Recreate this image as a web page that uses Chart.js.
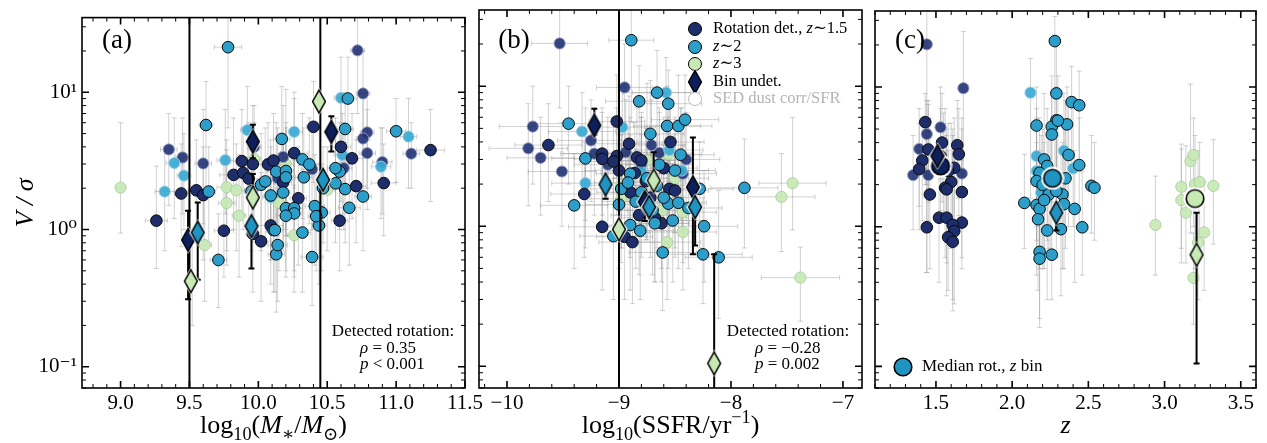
<!DOCTYPE html>
<html>
<head>
<meta charset="utf-8">
<script src="https://cdn.jsdelivr.net/npm/chart.js@4/dist/chart.umd.min.js"></script>
<style>
html, body { margin: 0; padding: 0; background: #fff; }
#wrap { position: relative; width: 1267px; height: 443px; }
#wrap canvas { position: absolute; left: 0; top: 0; }
</style>
</head>
<body>
<div id="wrap">
<canvas id="ca" width="1267" height="443"></canvas>
<canvas id="cb" width="1267" height="443"></canvas>
<canvas id="cc" width="1267" height="443"></canvas>
</div>
<script>
// point tuples: [x, V/sigma, x error, lower V/sigma, upper V/sigma]

// ---- panel (a): stellar mass ----
const aNavyDet = [
  [9.26,1.16,0.08,0.52,2.9],[9.44,1.83,0.05,0.75,4.2],[9.55,1.93,0.06,0.8,4.5],[9.60,1.78,0.05,0.6,4.0],
  [9.75,0.98,0.07,0.45,3.2],[9.82,2.5,0.10,1.0,6.5],[9.88,3.15,0.08,1.3,7.5],[9.89,2.59,0.06,1.0,5.5],
  [9.96,3.0,0.07,1.2,8.0],[10.07,2.98,0.08,1.0,6.0],[10.11,3.18,0.06,1.1,7.0],[10.26,3.6,0.10,1.5,9.0],
  [10.29,1.69,0.06,0.55,4.0],[10.09,1.07,0.09,0.4,3.0],[9.96,0.93,0.05,0.35,3.5],[10.02,0.82,0.07,0.3,2.6],
  [10.40,5.6,0.05,2.2,12],[10.59,1.16,0.06,0.5,2.6],[10.60,4.0,0.07,1.6,8.5],[10.68,3.3,0.08,1.2,7.0],
  [10.71,2.07,0.07,0.8,4.5],[10.91,2.18,0.09,0.9,4.2],[11.25,3.79,0.10,1.6,7.5],[10.18,2.2,0.06,0.8,5.0],
  [9.93,2.35,0.08,0.9,6.0]
];
const aNavySed = [
  [9.35,3.83,0.06,1.5,7.0],[9.45,3.35,0.05,1.3,6.5],[9.60,3.03,0.06,1.1,7.5],[10.18,3.38,0.07,1.3,8.0],
  [10.39,2.75,0.08,1.0,6.0],[10.14,2.37,0.06,0.9,5.5],[10.72,20.2,0.05,7,38],[10.76,9.8,0.05,3.5,20],
  [10.79,5.1,0.05,2.0,10],[10.76,4.6,0.05,1.8,9],[10.79,3.6,0.06,1.4,7.5],[10.90,3.1,0.07,1.3,5.5],
  [10.62,2.8,0.06,1.0,6],[11.11,3.57,0.06,2.0,6],[9.97,4.0,0.05,1.5,8]
];
const aBlueDet = [
  [9.78,21.3,0.10,5.5,35],[9.64,1.89,0.05,0.8,4.0],[9.62,5.77,0.05,2.0,12],[9.71,0.60,0.06,0.27,1.3],
  [10.02,2.12,0.06,0.7,5],[10.05,2.24,0.06,0.8,5.5],[10.09,1.77,0.05,0.6,4.5],[10.13,2.64,0.07,0.9,6],
  [10.11,0.99,0.05,0.35,2.5],[10.13,0.66,0.06,0.25,1.7],[10.65,9.0,0.06,3,18],[10.17,4.57,0.06,1.6,11],
  [10.63,5.4,0.06,2,10],[11.0,5.2,0.07,2.2,9],[10.76,1.74,0.06,0.7,3.5],[10.63,1.97,0.07,0.8,4.3],
  [10.56,2.17,0.07,0.8,5],[10.59,2.64,0.05,1.0,6],[10.56,2.8,0.06,1.1,6.5],[10.66,1.44,0.08,0.55,3.3],
  [10.46,1.33,0.06,0.5,3.0],[10.44,1.07,0.05,0.4,2.6],[10.41,1.48,0.07,0.55,3.5],[10.39,0.63,0.08,0.28,1.6],
  [10.32,0.95,0.06,0.35,2.4],[10.14,0.77,0.07,0.3,2.0],[10.18,1.86,0.05,0.7,4.5],[10.20,1.43,0.06,0.5,3.4],
  [10.26,1.43,0.06,0.5,3.6],[10.26,1.31,0.05,0.45,3.2],[10.20,1.26,0.07,0.45,3.0],[10.32,3.24,0.06,1.2,7],
  [10.37,2.98,0.07,1.1,6.5],[10.33,2.4,0.06,0.9,5.5],[10.20,2.67,0.06,1.0,6],[10.20,2.4,0.05,0.9,5.5],
  [10.12,0.99,0.06,0.35,2.6],[9.95,1.9,0.05,0.7,4.5],[10.47,2.0,0.05,0.8,4.0],[10.42,1.25,0.06,0.5,3.0]
];
const aBlueSed = [
  [9.39,3.05,0.06,1.2,6.5],[9.46,2.47,0.05,1.0,5],[9.32,1.89,0.07,0.7,4],[9.76,3.2,0.06,1.3,7.5],
  [9.92,5.3,0.05,2.0,11],[10.26,5.15,0.06,2.0,10],[10.60,9.1,0.05,3.0,18],[10.61,3.5,0.06,1.3,7],
  [11.09,4.75,0.06,2.0,9],[10.89,2.87,0.07,1.2,5.5],[10.09,1.72,0.06,0.6,4.0]
];
const aGreenSed = [
  [9.0,2.02,0.03,0.94,6.0],[9.61,0.77,0.05,0.3,1.8],[9.77,2.03,0.07,0.7,4.5],[9.84,1.93,0.06,0.7,4.2],
  [9.77,1.56,0.06,0.55,3.8],[9.86,1.26,0.05,0.45,3.5],[9.97,3.26,0.05,1.0,6],[10.15,1.56,0.06,0.5,3.6],
  [10.20,3.0,0.06,0.9,10.5],[10.26,0.91,0.05,0.35,2.1],[10.50,1.95,0.05,0.7,4.0],[9.52,0.43,0.05,0.2,0.9]
];
// bins: [x, V/sigma, lower, upper]
const aBinNavy = [[9.49,0.84,0.31,1.37],[9.96,4.37,3.3,5.8],[10.53,5.15,3.7,6.7]];
const aBinBlue = [[9.56,0.95,0.43,1.57],[9.95,1.06,0.52,1.06],[10.47,2.3,2.3,2.3]];
const aBinGreen = [[9.51,0.42,0.42,0.42],[9.96,1.71,1.71,2.54],[10.44,8.56,8.56,8.56]];
const aLines = [9.5, 10.45];
const aXTicks = [9.0, 9.5, 10.0, 10.5, 11.0, 11.5];
const aXLabels = ['9.0', '9.5', '10.0', '10.5', '11.0', '11.5'];

// ---- panel (b): specific SFR ----
const bNavyDet = [
  [-9.02,5.6,0.25,2.2,12],[-9.63,3.8,0.3,1.5,7.5],[-9.31,1.70,0.3,0.6,4],[-9.15,0.99,0.3,0.35,2.6],
  [-9.15,3.3,0.35,1.2,7],[-9.15,3.03,0.25,1.1,6.5],[-9.02,3.17,0.3,1.2,7],[-8.91,3.88,0.3,1.5,8.5],
  [-9.0,2.5,0.3,0.9,6],[-8.95,0.84,0.25,0.3,2.5],[-8.88,0.77,0.3,0.28,2.0],[-8.84,3.1,0.25,1.1,7],
  [-8.80,2.95,0.3,1.0,6.5],[-8.54,4.0,0.3,1.5,8],[-8.76,2.1,0.25,0.8,5],[-8.55,1.85,0.3,0.7,4.2],
  [-8.50,1.8,0.3,0.6,4.5],[-8.86,2.4,0.3,0.9,5.5],[-8.62,1.05,0.25,0.4,2.8],[-8.72,1.6,0.3,0.6,3.8],
  [-9.05,2.9,0.3,1.0,6],[-8.68,1.15,0.3,0.4,3.0],[-8.82,1.2,0.25,0.45,3.2],[-8.9,1.75,0.3,0.6,4.5],
  [-8.6,2.6,0.3,1.0,6]
];
const bNavySed = [
  [-9.53,20.2,0.25,7,38],[-8.95,9.8,0.25,3.5,20],[-9.77,5.15,0.3,2.0,10],[-9.81,3.6,0.35,1.4,7.5],
  [-9.70,3.08,0.3,1.2,6],[-9.51,2.46,0.3,1.0,5.5],[-9.22,3.3,0.3,1.2,7],[-8.94,3.38,0.25,1.3,8],
  [-8.71,3.8,0.3,1.4,8],[-8.64,3.34,0.3,1.2,7],[-8.43,2.37,0.3,0.9,5.5],[-9.25,4.1,0.3,1.5,8],
  [-8.8,2.8,0.3,1.0,6],[-9.1,2.75,0.3,1.0,6],[-8.4,3.0,0.3,1.1,6.5]
];
const bBlueDet = [
  [-8.89,21.3,0.2,5.5,35],[-8.66,9.0,0.3,3,18],[-8.82,7.8,0.3,2.5,14],[-9.45,5.4,0.3,2,10],
  [-9.4,1.41,0.3,0.5,3.3],[-9.30,3.05,0.3,1.1,7],[-9.0,1.43,0.3,0.5,3.5],[-8.9,2.37,0.3,0.8,6],
  [-8.9,1.02,0.25,0.35,2.5],[-8.81,0.93,0.3,0.3,2.4],[-8.72,4.57,0.3,1.6,11],[-8.64,2.75,0.3,1.0,6.5],
  [-8.57,5.2,0.3,1.8,10],[-8.61,0.65,0.3,0.25,1.7],[-8.56,7.5,0.3,2.6,13],[-8.47,5.2,0.3,2,12],
  [-8.41,5.77,0.3,2,12],[-8.45,3.24,0.3,1.1,7],[-8.56,1.45,0.3,0.5,3.5],[-8.47,1.47,0.25,0.5,3.3],
  [-8.52,1.10,0.3,0.4,2.8],[-8.28,1.85,0.3,0.7,4],[-8.24,1.0,0.3,0.4,2.5],[-8.25,0.63,0.35,0.28,1.6],
  [-8.11,0.60,0.3,0.22,1.8],[-7.88,1.88,0.3,0.7,4.2],[-8.8,1.75,0.3,0.6,4.5],[-8.7,1.3,0.3,0.45,3.2],
  [-8.75,2.2,0.3,0.8,5],[-8.98,1.85,0.3,0.7,4.5],[-8.6,1.6,0.3,0.6,3.8],[-8.85,1.5,0.3,0.5,3.5],
  [-8.68,1.05,0.3,0.4,2.6],[-8.92,2.05,0.3,0.8,5],[-8.5,2.5,0.3,0.9,6],[-8.38,1.35,0.3,0.5,3.0],
  [-8.66,1.95,0.3,0.7,4.5],[-9.05,0.85,0.3,0.3,2.2]
];
const bBlueSed = [
  [-8.58,9.0,0.3,3,16],[-9.33,4.75,0.3,1.7,9],[-8.97,5.1,0.3,1.8,10],[-9.30,2.03,0.3,0.7,5],
  [-8.44,2.5,0.3,0.9,7],[-8.55,3.5,0.3,1.2,8],[-8.8,2.45,0.3,0.9,6]
];
const bGreenSed = [
  [-8.98,1.96,0.3,0.7,4.5],[-8.98,1.57,0.3,0.55,3.8],[-8.57,0.77,0.3,0.3,3.5],[-8.56,3.26,0.3,1.0,6],
  [-8.43,1.26,0.3,0.55,3.8],[-8.43,0.91,0.3,0.35,2.1],[-7.55,1.62,0.3,0.66,3.3],[-7.45,2.03,0.3,0.94,6.0],
  [-7.38,0.43,0.35,0.21,0.71],[-8.62,1.3,0.3,0.5,3.6],[-8.5,2.2,0.3,0.7,4.0],[-8.75,2.95,0.3,0.9,10.5]
];
const bBinNavy = [[-9.22,5.25,4.5,6.9],[-8.77,1.49,1.09,1.49],[-8.34,1.9,0.63,4.3]];
const bBinBlue = [[-9.12,1.99,1.57,1.99],[-8.73,1.37,1.37,1.37],[-8.32,1.37,0.73,1.37]];
const bBinGreen = [[-9.0,0.95,0.95,0.95],[-8.69,2.12,2.12,3.38],[-8.15,0.105,0.05,0.63]];
const bLines = [-9.0];
const bXTicks = [-10, -9, -8, -7];
const bXLabels = ['\u221210', '\u22129', '\u22128', '\u22127'];

// ---- panel (c): redshift ----
const cNavyDet = [
  [1.43,5.6,0,2.0,9.0],[1.45,3.57,0,1.5,7.5],[1.41,2.98,0,1.1,6.0],[1.39,2.58,0,0.95,5.5],
  [1.54,4.0,0,1.5,9.0],[1.64,3.83,0,1.6,8.0],[1.65,3.3,0,1.2,7.0],[1.60,2.09,0,0.7,5.5],
  [1.56,1.9,0,0.6,7.0],[1.57,1.85,0,0.55,4.5],[1.67,1.77,0,0.6,5.0],[1.46,1.70,0,0.5,6.0],
  [1.52,1.16,0,0.4,4.0],[1.57,1.16,0,0.32,5.0],[1.44,0.99,0,0.47,3.5],[1.67,1.07,0,0.5,3.0],
  [1.61,1.03,0,0.3,4.5],[1.62,0.93,0,0.28,3.0],[1.58,0.84,0,0.35,3.5],[1.61,0.78,0,0.25,5.0],
  [1.62,2.64,0,0.9,6.0],[1.53,3.2,0,1.3,7.0],[1.55,2.9,0,1.2,6.5],[1.58,2.5,0,0.9,5.5]
];
const cNavySed = [
  [1.44,20.2,0,0.47,40],[1.68,9.8,0,2.3,25],[1.44,4.6,0,2.0,8.0],[1.53,5.15,0,2.2,10],
  [1.39,3.6,0,1.4,7.0],[1.35,2.34,0,0.95,4.5],[1.45,2.34,0,1.1,8.0],[1.67,2.4,0,1.0,6.0]
];
const cBlueDet = [
  [2.28,21.3,0,2.5,32],[2.29,9.0,0,1.5,20],[2.39,7.8,0,2.5,14],[2.44,7.4,0,2.6,13],
  [2.16,5.3,0,1.3,10],[2.29,5.77,0,1.0,10],[2.26,5.2,0,1.2,12],[2.26,4.57,0,1.5,9],
  [2.36,5.4,0,1.6,10],[2.37,3.26,0,1.0,8],[2.21,3.03,0,0.7,9],[2.23,2.72,0,0.8,7],
  [2.18,2.43,0,0.6,6],[2.16,2.12,0,0.7,5],[2.20,1.99,0,0.5,5],[2.24,1.7,0,0.6,4.5],
  [2.33,1.7,0,0.5,4],[2.08,1.48,0,0.7,3.3],[2.16,1.43,0,0.45,4],[2.18,1.34,0,0.5,3.5],
  [2.17,1.13,0,0.35,3],[2.23,0.94,0,0.3,2.6],[2.32,0.96,0,0.32,3.5],[2.18,0.66,0,0.19,2.0],
  [2.18,0.59,0,0.22,1.8],[2.26,0.63,0,0.3,2.2],[2.30,5.74,0,2.0,12],[2.44,2.76,0,1.0,6],
  [2.35,2.22,0,0.7,8],[2.52,1.96,0,0.9,4.5],[2.54,1.9,0,0.8,4],[2.34,1.45,0,0.5,5],
  [2.41,1.34,0,0.4,3.5],[2.46,0.99,0,0.45,2.5],[2.25,2.05,0,0.7,5],[2.29,1.8,0,0.6,4.5],
  [2.21,1.55,0,0.5,4]
];
const cBlueSed = [
  [2.12,9.1,0,1.6,16],[2.16,3.2,0,1.0,7],[2.34,3.5,0,1.0,9],[2.40,2.61,0,1.0,7],
  [2.16,2.5,0,0.8,6],[2.19,1.75,0,0.6,4.5]
];
const cGreenSed = [
  [2.94,1.03,0,0.45,2.3],[3.11,1.93,0,0.7,3.9],[3.11,1.55,0,0.55,3.6],[3.14,1.26,0,0.55,3.8],
  [3.17,2.95,0,0.9,10.5],[3.19,3.26,0,1.0,6],[3.20,2.01,0,0.5,4.5],[3.23,2.09,0,0.7,4.0],
  [3.32,1.96,0,0.75,4.2],[3.26,0.91,0,0.35,2.1],[3.22,0.77,0,0.3,3.5],[3.19,0.43,0,0.2,0.9]
];
const cBinNavy = [[1.51,3.2,3.2,3.2]];
const cBinBlue = [[2.29,1.26,0.94,1.26]];
const cBinGreen = [[3.21,0.63,0.105,1.26]];
const cMedNavy = [[1.53,2.72]];
const cMedBlue = [[2.265,2.22]];
const cMedGreen = [[3.20,1.59]];
const cXTicks = [1.5, 2.0, 2.5, 3.0, 3.5];
const cXLabels = ['1.5', '2.0', '2.5', '3.0', '3.5'];

const yTicks = [0.1, 1, 10];
const yLabels = ['10\u207B\u00B9', '10\u2070', '10\u00B9'];

const SERIF = "'Liberation Serif', 'DejaVu Serif', serif";
const NAVY = '#1e2d6c', BLUE = '#2b9ec9', GREEN = '#c7e9b4';

function diamondImg(fill) {
  const c = document.createElement('canvas');
  c.width = 18; c.height = 28;
  const g = c.getContext('2d');
  const poly = d => { g.beginPath(); g.moveTo(9, d); g.lineTo(18 - d, 14); g.lineTo(9, 28 - d); g.lineTo(d, 14); g.closePath(); };
  poly(0.3); g.fillStyle = '#fff'; g.fill();
  poly(2.6); g.fillStyle = fill; g.fill(); g.lineWidth = 1.5; g.strokeStyle = '#000'; g.stroke();
  return c;
}
function medianImg(fill) {
  const c = document.createElement('canvas');
  c.width = 24; c.height = 24;
  const g = c.getContext('2d');
  g.beginPath(); g.arc(12, 12, 11.5, 0, 2 * Math.PI); g.fillStyle = '#fff'; g.fill();
  g.beginPath(); g.arc(12, 12, 8.8, 0, 2 * Math.PI); g.fillStyle = fill; g.fill();
  g.lineWidth = 1.6; g.strokeStyle = '#000'; g.stroke();
  return c;
}
const dNavy = diamondImg('#0c1f5a'), dBlue = diamondImg('#1f93c1'), dGreen = diamondImg(GREEN);
const mNavy = medianImg('#0c1f5a'), mBlue = medianImg('#1f93c1'), mGreen = medianImg(GREEN);

const xy = arr => arr.map(p => ({x: p[0], y: p[1]}));

function detSet(arr, col, order) {
  return {data: xy(arr), errs: arr, backgroundColor: col, borderColor: '#0a0a0a',
    borderWidth: 1, pointRadius: 5.8, order: order};
}
function sedSet(arr, col, edge, order) {
  return {data: xy(arr), errs: arr, backgroundColor: col, borderColor: edge,
    borderWidth: 1, pointRadius: 5.6, order: order};
}
function lineSet(v) {
  return {type: 'line', data: [{x: v, y: 0.01}, {x: v, y: 100}], borderColor: '#000',
    borderWidth: 2, pointRadius: 0, order: 2};
}
function binSet(navy, blue, green) {
  const all = navy.concat(blue, green);
  const styles = navy.map(() => dNavy).concat(blue.map(() => dBlue), green.map(() => dGreen));
  return {data: xy(all), bins: all, pointStyle: styles, pointRadius: 9, order: 0};
}
function groupSets(nd, ns, bd, bs, gs) {
  return [
    detSet(bd, BLUE, 3),
    detSet(nd, NAVY, 4),
    sedSet(bs, 'rgba(58,170,212,0.92)', 'rgba(160,205,225,0.9)', 6),
    sedSet(ns, 'rgba(33,50,115,0.9)', 'rgba(150,158,195,0.9)', 7),
    sedSet(gs, 'rgba(199,233,180,0.92)', 'rgba(172,205,160,0.9)', 8)
  ];
}

function errBar(ctx, xs, ys, x, v, xe, lo, hi, cap) {
  const px = xs.getPixelForValue(x), py = ys.getPixelForValue(v);
  ctx.beginPath();
  if (xe > 0) {
    const l = xs.getPixelForValue(x - xe), r = xs.getPixelForValue(x + xe);
    ctx.moveTo(l, py); ctx.lineTo(r, py);
    ctx.moveTo(l, py - cap); ctx.lineTo(l, py + cap);
    ctx.moveTo(r, py - cap); ctx.lineTo(r, py + cap);
  }
  if (hi > v) {
    const t = ys.getPixelForValue(hi);
    ctx.moveTo(px, py); ctx.lineTo(px, t);
    ctx.moveTo(px - cap, t); ctx.lineTo(px + cap, t);
  }
  if (lo < v) {
    const b = ys.getPixelForValue(lo);
    ctx.moveTo(px, py); ctx.lineTo(px, b);
    ctx.moveTo(px - cap, b); ctx.lineTo(px + cap, b);
  }
  ctx.stroke();
}

// mixed-style text: parts are [text, kind], kind '' | 'i' | 'sub' | 'sup'
function rich(ctx, parts, x, y, size, align, color) {
  const fnt = k => (k === 'i' ? 'italic ' : '') + ((k === 'sub' || k === 'sup') ? size * 0.7 : size) + 'px ' + SERIF;
  let w = 0;
  parts.forEach(p => { ctx.font = fnt(p[1]); w += ctx.measureText(p[0]).width; });
  let cx = align === 'center' ? x - w / 2 : x;
  ctx.fillStyle = color || '#000';
  ctx.textAlign = 'left';
  parts.forEach(p => {
    ctx.font = fnt(p[1]);
    const dy = p[1] === 'sub' ? size * 0.28 : (p[1] === 'sup' ? -size * 0.38 : 0);
    ctx.fillText(p[0], cx, y + dy);
    cx += ctx.measureText(p[0]).width;
  });
}

const deco = {
  ca: {xMinor: 0.1, xTicks: aXTicks, tag: '(a)',
    xTitle: [['log', ''], ['10', 'sub'], ['(', ''], ['M', 'i'], ['\u2217', 'sub'], ['/', ''], ['M', 'i'], ['\u2299', 'sub'], [')', '']],
    stats: [[[['Detected rotation:', '']], 72, 56, 'center'], [[['\u03C1', 'i'], [' = 0.35', '']], 105, 39, 'left'],
            [[['p', 'i'], [' < 0.001', '']], 105, 23, 'left']]},
  cb: {xMinor: 0.2, xTicks: bXTicks, tag: '(b)',
    xTitle: [['log', ''], ['10', 'sub'], ['(SSFR/yr', ''], ['\u22121', 'sup'], [')', '']],
    stats: [[[['Detected rotation:', '']], 74, 56, 'center'], [[['\u03C1', 'i'], [' = \u22120.28', '']], 107, 39, 'left'],
            [[['p', 'i'], [' = 0.002', '']], 107, 23, 'left']]},
  cc: {xMinor: 0.1, xTicks: cXTicks, tag: '(c)', xTitle: [['z', 'i']], stats: []}
};

const decoPlugin = {
  id: 'deco',
  beforeDatasetsDraw(chart) {
    const {ctx, chartArea: a, scales: {x, y}} = chart;
    ctx.save();
    ctx.beginPath(); ctx.rect(a.left, a.top, a.right - a.left, a.bottom - a.top); ctx.clip();
    ctx.strokeStyle = 'rgba(145,145,145,0.42)';
    ctx.lineWidth = 1;
    chart.data.datasets.forEach(ds => {
      if (!ds.errs) return;
      ds.errs.forEach(p => errBar(ctx, x, y, p[0], p[1], p[2], p[3], p[4], 2.5));
    });
    ctx.restore();
  },
  beforeDatasetDraw(chart, args) {
    const ds = chart.data.datasets[args.index];
    if (!ds.bins) return;
    const {ctx, chartArea: a, scales: {x, y}} = chart;
    ctx.save();
    ctx.beginPath(); ctx.rect(a.left, a.top, a.right - a.left, a.bottom - a.top); ctx.clip();
    ctx.strokeStyle = '#000';
    ctx.lineWidth = 2;
    ds.bins.forEach(p => errBar(ctx, x, y, p[0], p[1], 0, p[2], p[3], 3));
    ctx.restore();
  },
  afterDraw(chart) {
    const cfg = deco[chart.canvas.id];
    const {ctx, chartArea: a, scales: {x, y}} = chart;
    ctx.save();
    // frame with inward ticks on all sides
    ctx.strokeStyle = '#000';
    ctx.lineWidth = 1.6;
    ctx.strokeRect(a.left, a.top, a.right - a.left, a.bottom - a.top);
    const step = cfg.xMinor;
    for (let k = Math.ceil(x.min / step - 1e-9); k * step <= x.max + 1e-9; k++) {
      const v = k * step;
      const major = cfg.xTicks.some(t => Math.abs(t - v) < 1e-6);
      const px = x.getPixelForValue(v), len = major ? 7 : 4;
      ctx.lineWidth = major ? 1.6 : 1;
      ctx.beginPath();
      ctx.moveTo(px, a.bottom); ctx.lineTo(px, a.bottom - len);
      ctx.moveTo(px, a.top); ctx.lineTo(px, a.top + len);
      ctx.stroke();
    }
    for (let d = -2; d <= 2; d++) {
      for (let k = 1; k <= 9; k++) {
        const v = k * Math.pow(10, d);
        if (v < y.min || v > y.max) continue;
        const py = y.getPixelForValue(v), len = k === 1 ? 7 : 4;
        ctx.lineWidth = k === 1 ? 1.6 : 1;
        ctx.beginPath();
        ctx.moveTo(a.left, py); ctx.lineTo(a.left + len, py);
        ctx.moveTo(a.right, py); ctx.lineTo(a.right - len, py);
        ctx.stroke();
      }
    }
    // panel tag, axis title, statistics
    ctx.textBaseline = 'middle';
    rich(ctx, [[cfg.tag, '']], a.left + 35, 41, 27, 'center');
    cfg.stats.forEach(s => rich(ctx, s[0], a.right - s[1], a.bottom - s[2], 17, s[3]));
    ctx.textBaseline = 'alphabetic';
    rich(ctx, cfg.xTitle, (a.left + a.right) / 2, 433, 26, 'center');
    ctx.textBaseline = 'middle';
    if (chart.canvas.id === 'cb') {
      const mx = a.right - 167, tx = a.right - 149;
      const rows = [19, 37, 54, 72, 89].map(r => a.top + r);
      const dot = (py, fill, edge) => {
        ctx.beginPath(); ctx.arc(mx, py, 6.5, 0, 2 * Math.PI);
        ctx.fillStyle = fill; ctx.fill(); ctx.lineWidth = 1; ctx.strokeStyle = edge; ctx.stroke();
      };
      dot(rows[0], NAVY, '#000'); dot(rows[1], BLUE, '#000'); dot(rows[2], GREEN, '#000');
      ctx.drawImage(dNavy, mx - 9, rows[3] - 14);
      dot(rows[4], '#fff', '#bbbbbb');
      rich(ctx, [['Rotation det., ', ''], ['z', 'i'], ['\u223C1.5', '']], tx, rows[0], 16.5, 'left');
      rich(ctx, [['z', 'i'], ['\u223C2', '']], tx, rows[1], 16.5, 'left');
      rich(ctx, [['z', 'i'], ['\u223C3', '']], tx, rows[2], 16.5, 'left');
      rich(ctx, [['Bin undet.', '']], tx, rows[3], 16.5, 'left');
      rich(ctx, [['SED dust corr/SFR', '']], tx, rows[4], 16.5, 'left', '#b5b5b5');
    }
    if (chart.canvas.id === 'cc') {
      ctx.drawImage(mBlue, a.left + 28 - 12, a.bottom - 21 - 12);
      rich(ctx, [['Median rot., ', ''], ['z', 'i'], [' bin', '']], a.left + 47, a.bottom - 21, 17, 'left');
    }
    ctx.restore();
  }
};

function makePanel(id, pad, xMin, xMax, xTicks, xLabels, showY, datasets) {
  return new Chart(document.getElementById(id), {
    type: 'scatter',
    data: {datasets: datasets},
    options: {
      responsive: false,
      animation: false,
      events: [],
      layout: {padding: pad},
      plugins: {legend: {display: false}, tooltip: {enabled: false}},
      scales: {
        x: {
          type: 'linear', min: xMin, max: xMax,
          grid: {display: false, drawTicks: false}, border: {display: false},
          afterBuildTicks: s => { s.ticks = xTicks.map(v => ({value: v})); },
          afterFit: s => { s.height = 55; },
          ticks: {callback: (v, i) => xLabels[i], color: '#000', padding: 3, maxRotation: 0, autoSkip: false,
            font: {family: SERIF, size: 21}}
        },
        y: {
          type: 'logarithmic', min: 0.07, max: 35,
          grid: {display: false, drawTicks: false}, border: {display: false},
          afterBuildTicks: s => { s.ticks = yTicks.map(v => ({value: v})); },
          afterFit: s => { s.width = showY ? 82 : 0; },
          ticks: {display: showY, callback: (v, i) => yLabels[i], color: '#000', padding: 5,
            font: {family: SERIF, size: 21}},
          title: {display: showY, text: 'V / \u03C3', color: '#000', padding: {top: 11, bottom: 0},
            font: {family: SERIF, size: 26, style: 'italic'}}
        }
      }
    },
    plugins: [decoPlugin]
  });
}

makePanel('ca', {left: 0, right: 802, top: 8, bottom: 0}, 8.72, 11.5, aXTicks, aXLabels, true,
  groupSets(aNavyDet, aNavySed, aBlueDet, aBlueSed, aGreenSed)
    .concat(aLines.map(lineSet), [binSet(aBinNavy, aBinBlue, aBinGreen)]));

makePanel('cb', {left: 479, right: 405, top: 8, bottom: 0}, -10.25, -6.83, bXTicks, bXLabels, false,
  groupSets(bNavyDet, bNavySed, bBlueDet, bBlueSed, bGreenSed)
    .concat(bLines.map(lineSet), [binSet(bBinNavy, bBinBlue, bBinGreen)]));

const cMed = cMedNavy.concat(cMedBlue, cMedGreen);
makePanel('cc', {left: 875, right: 9, top: 8, bottom: 0}, 1.1, 3.6, cXTicks, cXLabels, false,
  groupSets(cNavyDet, cNavySed, cBlueDet, cBlueSed, cGreenSed).concat([
    {data: xy(cMed), pointStyle: [mNavy, mBlue, mGreen], pointRadius: 10, order: 1},
    binSet(cBinNavy, cBinBlue, cBinGreen)
  ]));
</script>
</body>
</html>
